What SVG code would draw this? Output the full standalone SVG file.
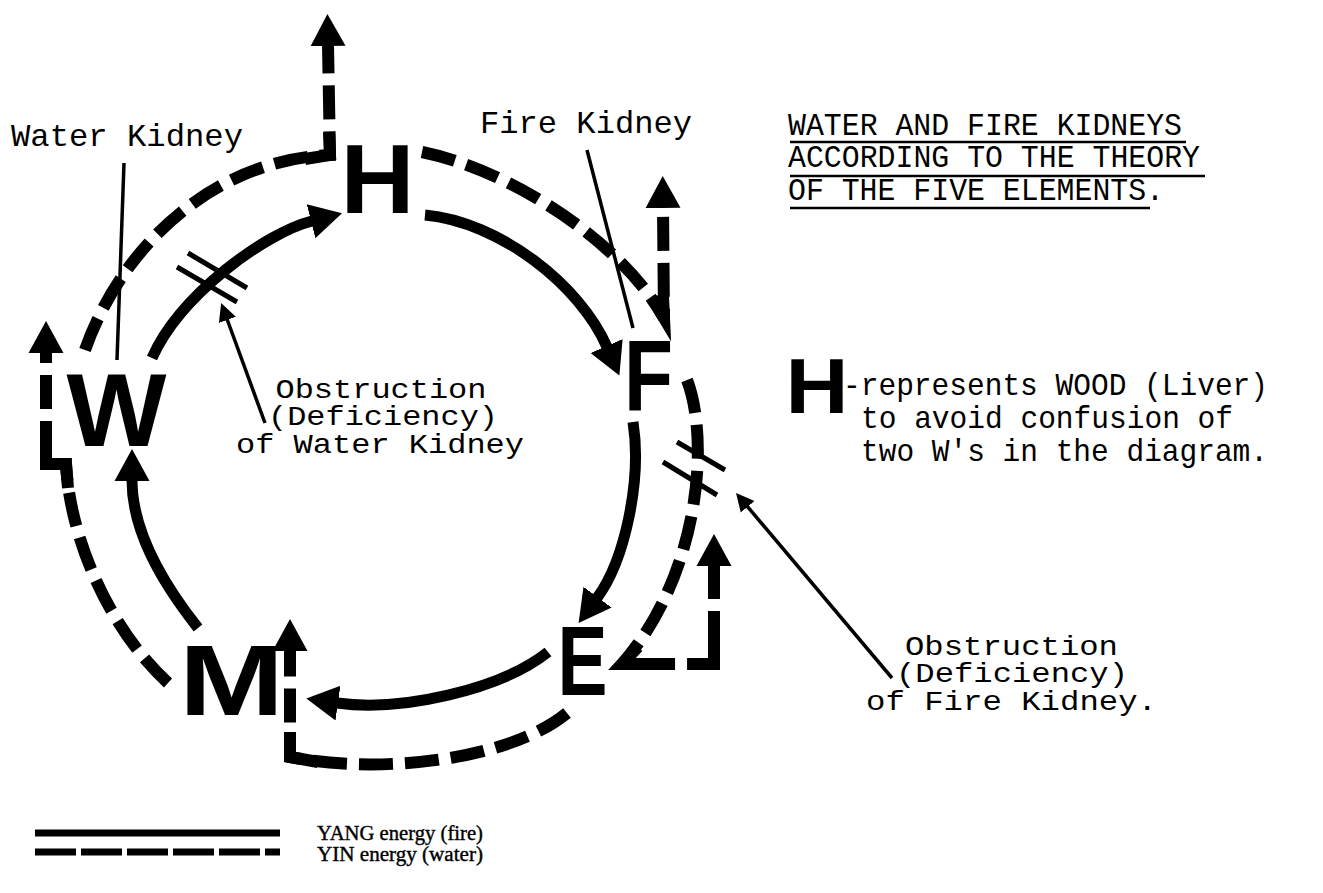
<svg xmlns="http://www.w3.org/2000/svg" width="1323" height="893" viewBox="0 0 1323 893">
<defs>
<style>
.big{font-family:"Liberation Sans",Arial,sans-serif;font-weight:bold;fill:#000}
.mono{font-family:"Liberation Mono","Courier New",monospace;font-size:32px;fill:#000}
.obs{font-family:"Liberation Mono","Courier New",monospace;font-size:28px;fill:#000}
.leg{font-family:"Liberation Serif","Times New Roman",serif;font-size:20.5px;fill:#000;stroke:#000;stroke-width:0.4}
.yang{fill:none;stroke:#000;stroke-width:11;stroke-linecap:butt}
.yin{fill:none;stroke:#000;stroke-width:12;stroke-dasharray:34 12;stroke-linejoin:miter}
.corner{fill:none;stroke:#000;stroke-width:12;stroke-linejoin:miter;stroke-miterlimit:6}
.thin{fill:none;stroke:#000;stroke-width:3.5}
.bar{fill:none;stroke:#000;stroke-width:5}
.ul{stroke:#000;stroke-width:2.5}
</style>
<marker id="ah" markerUnits="userSpaceOnUse" markerWidth="36" markerHeight="40" viewBox="0 -20 36 40" refX="1" refY="0" orient="auto">
<path d="M0,-17.5 L32,0 L0,17.5 z" fill="#000"/>
</marker>
<marker id="sa" markerUnits="userSpaceOnUse" markerWidth="22" markerHeight="22" viewBox="0 -11 22 22" refX="1" refY="0" orient="auto">
<path d="M0,-9 L18,0 L0,9 z" fill="#000"/>
</marker>
</defs>
<rect width="1323" height="893" fill="#fff"/>

<g id="connectors">
<!-- YANG (solid) arcs -->
<path class="yang" d="M152,358 C180,295 265,233 312,221" marker-end="url(#ah)"/>
<path class="yang" d="M425,215 C500,222 580,285 607,347" marker-end="url(#ah)"/>
<path class="yang" d="M633,422 C642,480 625,560 597,598" marker-end="url(#ah)"/>
<path class="yang" d="M548,652 C500,690 400,712 337,703" marker-end="url(#ah)"/>
<path class="yang" d="M198,628 C160,580 132,530 132,480" marker-end="url(#ah)"/>

<!-- YIN (dashed) arcs -->
<path class="yin" d="M85,350 C120,250 210,160 330,155 L328,45" marker-end="url(#ah)"/>
<path class="yin" d="M422,152 C510,170 620,240 664,318 L663,207" marker-end="url(#ah)"/>
<path class="yin" d="M687,380 C710,440 700,575 622,664 L714,664 L714,565" marker-end="url(#ah)"/>
<path class="yin" d="M567,713 C510,760 380,775 290,757 L290,650" marker-end="url(#ah)"/>
<path class="yin" d="M168,683 C110,630 70,540 66,464 L46,464 L46,352" marker-end="url(#ah)"/>

<!-- corners -->
<path class="corner" d="M305,159 L330,155 L329,132"/>
<path class="corner" d="M652,298 L664,318 L663,296"/>
<path class="corner" d="M638,647 L622,664 L650,664"/>
<path class="corner" d="M690,664 L714,664 L714,640"/>
<path class="corner" d="M318,762 L290,757 L290,732"/>
<path class="corner" d="M68,488 L66,464 L46,464 L46,445"/>

<!-- labels pointers -->
<path class="thin" d="M124,163 L117,360"/>
<path class="thin" d="M587,150 L633,328"/>

<!-- obstruction of water kidney -->
<path class="bar" d="M188,253 L247,288 M177,267 L237,302"/>
<path class="thin" d="M265,423 L227,319" marker-end="url(#sa)"/>

<!-- obstruction of fire kidney -->
<path class="bar" d="M677,442 L725,470 M663,462 L717,495"/>
<path class="thin" d="M892,678 L747,506" marker-end="url(#sa)"/>
</g>

<g id="node-H"><text class="big" x="377.5" y="213" font-size="99" text-anchor="middle" textLength="74" lengthAdjust="spacingAndGlyphs">H</text></g>
<g id="node-F"><text class="big" x="624" y="410" font-size="100" textLength="49" lengthAdjust="spacingAndGlyphs">F</text></g>
<g id="node-E"><text class="big" x="557.5" y="695" font-size="98" textLength="50" lengthAdjust="spacingAndGlyphs">E</text></g>
<g id="node-M"><text class="big" x="179" y="715" font-size="100" textLength="105" lengthAdjust="spacingAndGlyphs">M</text></g>
<g id="node-W"><text class="big" x="116.5" y="446" font-size="103" text-anchor="middle" textLength="100" lengthAdjust="spacingAndGlyphs">W</text></g>

<g id="label-water-kidney"><text class="mono" x="11" y="146" textLength="232" lengthAdjust="spacingAndGlyphs">Water Kidney</text></g>
<g id="label-fire-kidney"><text class="mono" x="480" y="133" textLength="212" lengthAdjust="spacingAndGlyphs">Fire Kidney</text></g>

<g id="label-water-obstruction" class="obs" text-anchor="middle">
<text x="381" y="398" textLength="211" lengthAdjust="spacingAndGlyphs">Obstruction</text>
<text x="383" y="425" textLength="230" lengthAdjust="spacingAndGlyphs">(Deficiency)</text>
<text x="380" y="453" textLength="288" lengthAdjust="spacingAndGlyphs">of Water Kidney</text>
</g>

<g id="label-fire-obstruction" class="obs" text-anchor="middle">
<text x="1011.5" y="655" textLength="213" lengthAdjust="spacingAndGlyphs">Obstruction</text>
<text x="1012" y="682" textLength="232" lengthAdjust="spacingAndGlyphs">(Deficiency)</text>
<text x="1011.5" y="710" textLength="291" lengthAdjust="spacingAndGlyphs">of Fire Kidney.</text>
</g>

<g id="title" class="mono">
<text x="788" y="135" textLength="394" lengthAdjust="spacingAndGlyphs">WATER AND FIRE KIDNEYS</text>
<text x="788" y="167" textLength="412" lengthAdjust="spacingAndGlyphs">ACCORDING TO THE THEORY</text>
<text x="788" y="200" textLength="376" lengthAdjust="spacingAndGlyphs">OF THE FIVE ELEMENTS.</text>
<line class="ul" x1="790" y1="142" x2="1186" y2="142"/>
<line class="ul" x1="790" y1="176" x2="1205" y2="176"/>
<line class="ul" x1="790" y1="208" x2="1150" y2="208"/>
</g>

<g id="note-H">
<text class="big" x="817" y="413" font-size="77" text-anchor="middle" textLength="63" lengthAdjust="spacingAndGlyphs">H</text>
<text class="mono" x="843" y="395" textLength="425" lengthAdjust="spacingAndGlyphs">-represents WOOD (Liver)</text>
<text class="mono" x="861" y="428" textLength="372" lengthAdjust="spacingAndGlyphs">to avoid confusion of</text>
<text class="mono" x="861" y="461" textLength="407" lengthAdjust="spacingAndGlyphs">two W's in the diagram.</text>
</g>

<g id="legend">
<line x1="35" y1="833" x2="280" y2="833" stroke="#000" stroke-width="7"/>
<line x1="35" y1="852" x2="280" y2="852" stroke="#000" stroke-width="7" stroke-dasharray="41 5"/>
<text class="leg" x="317" y="840" textLength="166" lengthAdjust="spacingAndGlyphs">YANG energy (fire)</text>
<text class="leg" x="317" y="861" textLength="166" lengthAdjust="spacingAndGlyphs">YIN energy (water)</text>
</g>
</svg>
